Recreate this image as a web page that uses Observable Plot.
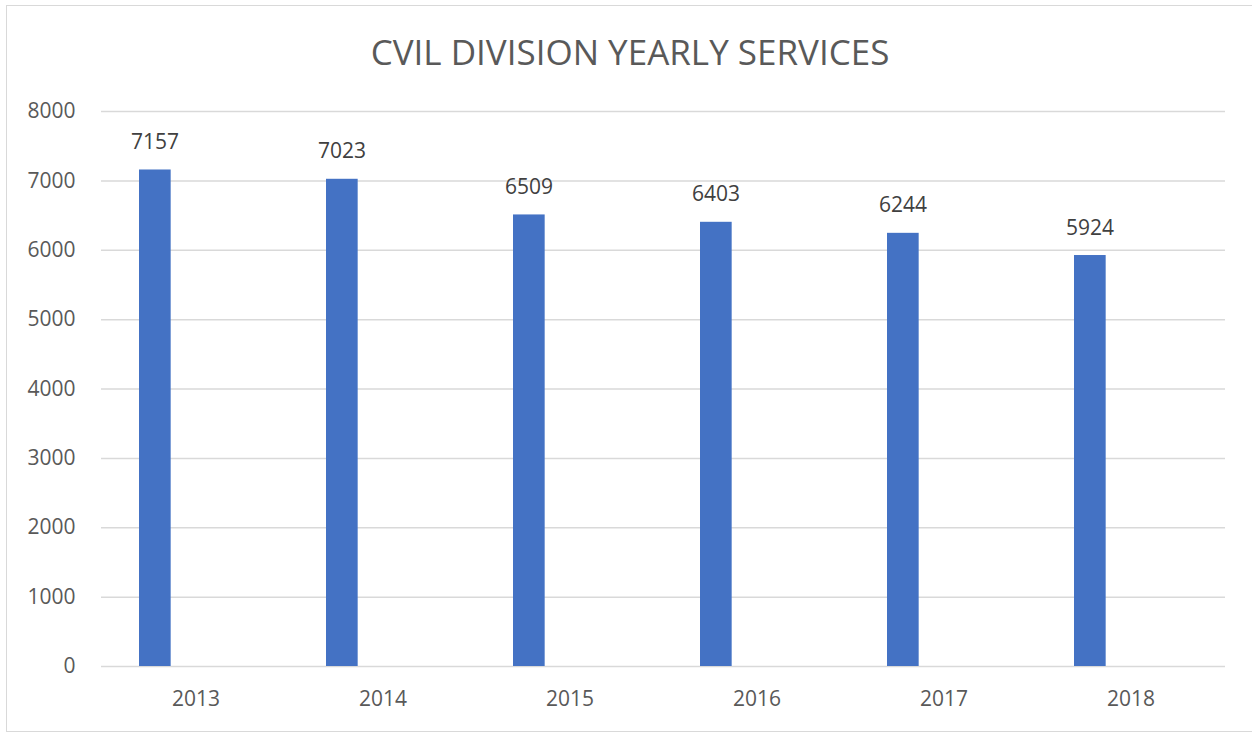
<!DOCTYPE html>
<html>
<head>
<meta charset="utf-8">
<script src="https://cdn.jsdelivr.net/npm/d3@7"></script>
<script src="https://cdn.jsdelivr.net/npm/@observablehq/plot@0.6"></script>
<style>
  html, body { margin: 0; padding: 0; background: #fff; }
  #frame {
    position: absolute; left: 6px; top: 5px;
    width: 1246px; height: 727px;
    border-top: 1.5px solid #d9d9d9;
    border-left: 1.5px solid #d9d9d9;
    border-bottom: 1.5px solid #d9d9d9;
    box-sizing: border-box;
  }
  #title {
    position: absolute; left: 0; top: 7px; width: 1252px; height: 90px;
    font-family: "Open Sans", sans-serif; font-size: 35px; color: #595959;
    text-align: center; line-height: 90px; padding-left: 8px; box-sizing: border-box;
  }
  #chart { position: absolute; left: 0; top: 90px; }
</style>
</head>
<body>
<div id="title">CVIL DIVISION YEARLY SERVICES</div>
<div id="chart"></div>
<div id="frame"></div>
<script>
const years = ["2013", "2014", "2015", "2016", "2017", "2018"];
const services = [7157, 7023, 6509, 6403, 6244, 5924];
const yTicks = [0, 1000, 2000, 3000, 4000, 5000, 6000, 7000, 8000];

const data = years.map((year, i) => ({year, value: services[i]}));

const chart = Plot.plot({
  width: 1252,
  height: 646,
  marginTop: 21,
  marginBottom: 70,
  marginLeft: 101,
  marginRight: 27,
  style: {fontFamily: "Open Sans, sans-serif", background: "transparent"},
  x: {type: "band", domain: years, padding: 0, label: null},
  y: {domain: [0, 8000], label: null},
  marks: [
    Plot.gridY(yTicks, {stroke: "#d9d9d9", strokeOpacity: 1, strokeWidth: 1.5}),
    Plot.barY(data, {x: "year", y: "value", fill: "#4472C4", insetLeft: 37, insetRight: 118.33}),
    Plot.text(data, {x: "year", y: "value", text: d => String(d.value), dx: -41, dy: -21,
      lineAnchor: "bottom", fontSize: 21, fill: "#404040"}),
    Plot.axisY(yTicks, {tickSize: 0, tickPadding: 26, fontSize: 21, fill: "#595959", label: null,
      tickFormat: d => String(d)}),
    Plot.axisX({tickSize: 0, tickPadding: 25, fontSize: 21, fill: "#595959", label: null})
  ]
});
document.getElementById("chart").appendChild(chart);
</script>
</body>
</html>
